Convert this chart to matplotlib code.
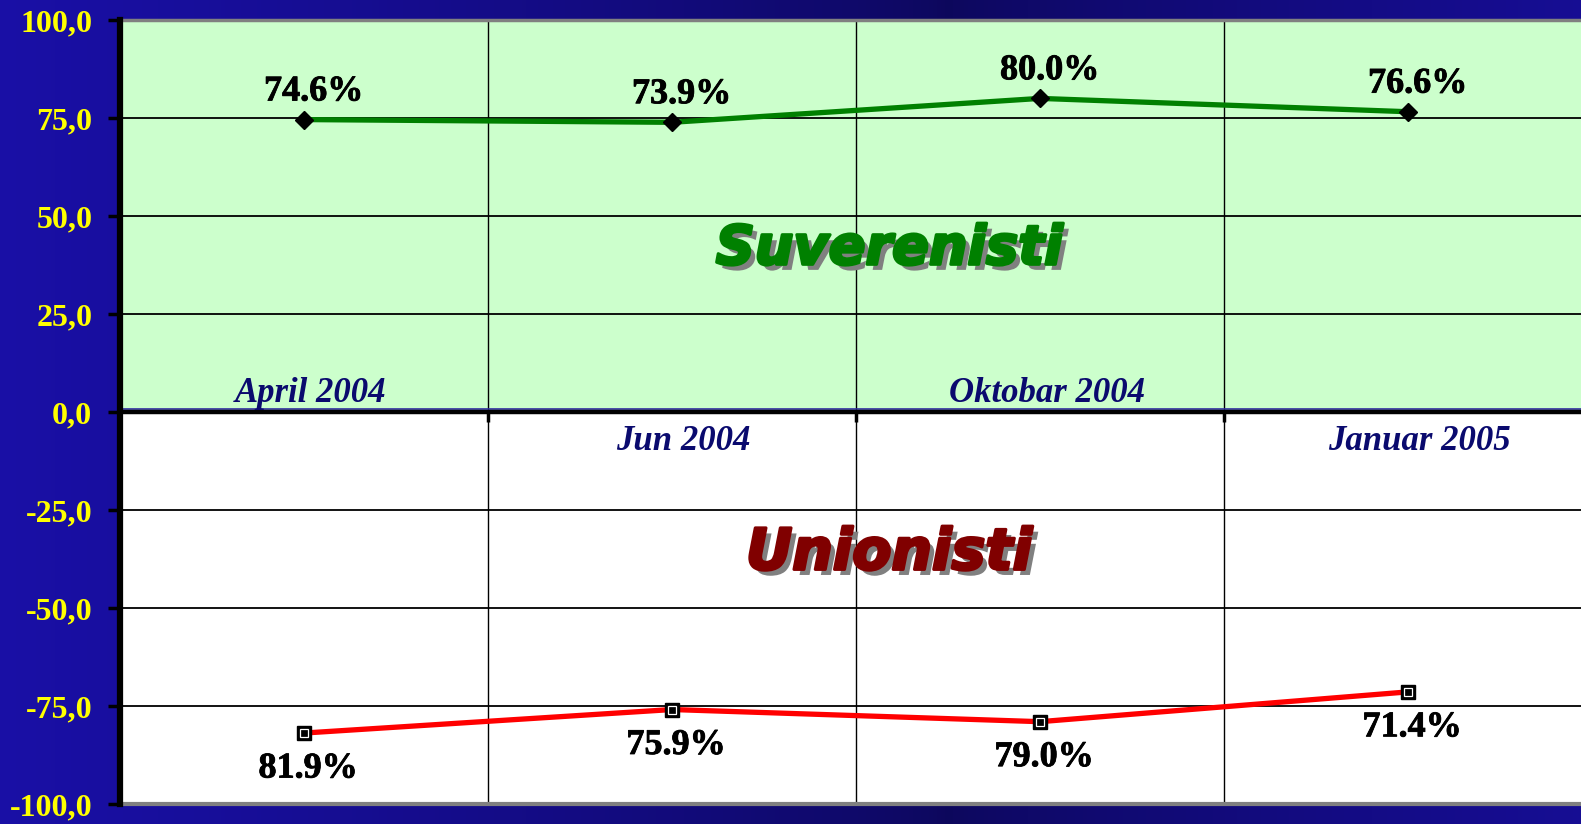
import matplotlib
matplotlib.use("Agg")
import matplotlib.pyplot as plt
import matplotlib.patheffects as pe
import matplotlib.transforms as mtransforms
import numpy as np

# 数据（从图上读出来的）
MONTHS = ["April 2004", "Jun 2004", "Oktobar 2004", "Januar 2005"]
SUVERENISTI = [74.6, 73.9, 80.0, 76.6]
UNIONISTI = [81.9, 75.9, 79.0, 71.4]      # 画在负半轴
Y_TICKS = [100, 75, 50, 25, 0, -25, -50, -75, -100]

SERIF = ["Liberation Serif", "DejaVu Serif"]
HEAVY = ["DejaVu Sans"]

fig = plt.figure(figsize=(15.81, 8.24), dpi=100)

# ---- 蓝色渐变背景 ----
bg = fig.add_axes([0, 0, 1, 1], zorder=-10)
t = np.linspace(0, 1, 400)
k = np.abs(t - 0.6) / 0.6
bright = np.array([0.10, 0.06, 0.65])
dark = np.array([0.05, 0.03, 0.36])
row = dark + (bright - dark) * np.clip(k, 0, 1)[:, None] ** 0.7
bg.imshow(row[None, :, :], aspect="auto", extent=[0, 1, 0, 1])
bg.set_axis_off()

# ---- 主图 ----
W, H = 1581, 824
ax = fig.add_axes([120 / W, 1 - 804 / H, 1 - 120 / W, (804 - 20) / H])
ax.set_facecolor("white")
x = np.arange(len(MONTHS)) + 0.5
ax.set_xlim(0, (W - 120) / 368)
ax.set_ylim(-100, 100)

# 上半部分浅绿色
ax.axhspan(0, 100, facecolor="#CCFFCC", edgecolor="none", zorder=0)

# 网格
for yv in Y_TICKS[1:-1]:
    if yv != 0:
        ax.axhline(yv, color="black", lw=1.3, zorder=1)
for xv in range(1, len(MONTHS)):
    ax.axvline(xv, color="black", lw=1.0, zorder=1)

# 零线（x 轴）和上面一条细蓝线
blue_tr = mtransforms.offset_copy(ax.transData, fig=fig, x=0, y=2.0, units="points")
ax.plot([0, 4], [0, 0], color="#3030A0", lw=1.2, transform=blue_tr, zorder=2)
ax.spines["bottom"].set_position(("data", 0))
ax.spines["bottom"].set_linewidth(3.2)
ax.spines["bottom"].set_zorder(3)
ax.set_xticks(range(1, len(MONTHS)))
ax.set_xticklabels([])
ax.tick_params(axis="x", direction="out", length=7, width=2.5, color="black")

# 外框
ax.spines["top"].set_color("#808080")
ax.spines["top"].set_linewidth(2.5)
ax.spines["right"].set_visible(False)
ax.axhline(-100, color="#808080", lw=3, zorder=3, clip_on=False)
ax.spines["left"].set_linewidth(4.5)
ax.spines["left"].set_zorder(4)

ax.set_yticks(Y_TICKS)
ax.set_yticklabels([f"{v:.1f}".replace(".", ",") for v in Y_TICKS],
                   family=SERIF, fontweight="bold", fontsize=23, color="#FFFF00")
ax.tick_params(axis="y", direction="out", length=9, width=2.5, pad=11, color="black")

# 折线
ax.plot(x, SUVERENISTI, color="#008000", lw=3.8, zorder=5)
ax.plot(x, SUVERENISTI, ls="none", marker="D", ms=9, mfc="black", mec="black", zorder=6)
neg = [-v for v in UNIONISTI]
ax.plot(x, neg, color="#FF0000", lw=3.8, zorder=5)
ax.plot(x, neg, ls="none", marker="s", ms=9.5, mfc="black", mec="black", zorder=6)
ax.plot(x, neg, ls="none", marker="s", ms=6, mfc="black", mec="white", mew=0.9, zorder=7)

# 数据标签
bold_fx = [pe.Stroke(linewidth=0.6, foreground="black"), pe.Normal()]
for xi, v in zip(x, SUVERENISTI):
    ax.annotate(f"{v:.1f}%", (xi, v), xytext=(7, 8), textcoords="offset points",
                ha="center", va="bottom", family=SERIF, fontweight="bold",
                fontsize=26, color="black", zorder=8, path_effects=bold_fx)
for xi, v in zip(x, UNIONISTI):
    ax.annotate(f"{v:.1f}%", (xi, -v), xytext=(3, -14), textcoords="offset points",
                ha="center", va="top", family=SERIF, fontweight="bold",
                fontsize=26, color="black", zorder=8, path_effects=bold_fx)

# 月份标签：上下交错
for i, (xi, name) in enumerate(zip(x, MONTHS)):
    if i % 2 == 0:
        tr = mtransforms.offset_copy(ax.transData, fig=fig, x=5, y=7, units="points")
        va = "baseline"
    else:
        tr = mtransforms.offset_copy(ax.transData, fig=fig, x=8, y=-9, units="points")
        va = "top"
    ax.text(xi, 0, name, transform=tr, ha="center", va=va, family=SERIF,
            fontweight="bold", style="italic", fontsize=25, color="#0A0A6E", zorder=8)

# 大标题（带灰色阴影）
def title_fx(color):
    return [pe.SimplePatchShadow(offset=(4, -4), shadow_rgbFace="#808080", alpha=1.0),
            pe.Stroke(linewidth=2.2, foreground=color), pe.Normal()]

ax.text(2.09, 41.5, "Suverenisti", ha="center", va="center", family=HEAVY,
        fontweight="bold", style="oblique", fontsize=39, color="#008000",
        path_effects=title_fx("#008000"), zorder=8)
ax.text(2.09, -36.2, "Unionisti", ha="center", va="center", family=HEAVY,
        fontweight="bold", style="oblique", fontsize=41, color="#800000",
        path_effects=title_fx("#800000"), zorder=8)

fig.savefig("out.png", dpi=100)
